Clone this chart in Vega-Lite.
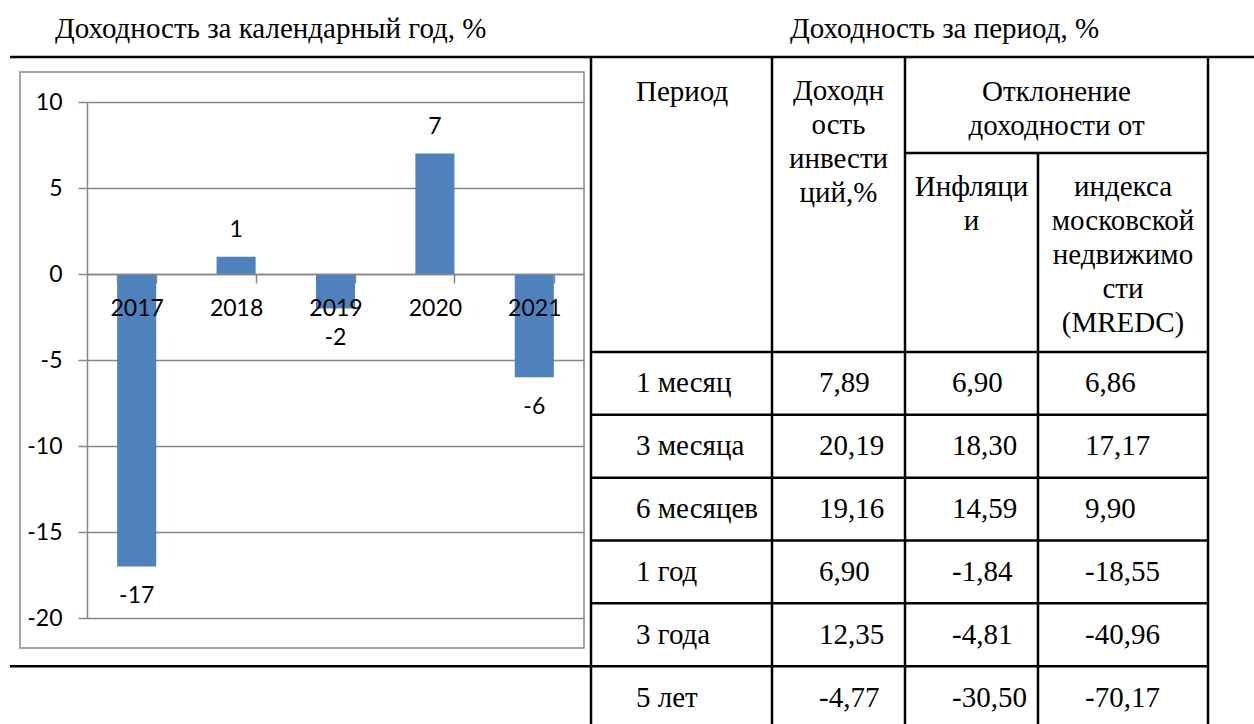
{
  "$schema": "https://vega.github.io/schema/vega-lite/v6.json",
  "width": 1254,
  "height": 724,
  "padding": 0,
  "autosize": {"type": "none"},
  "background": "white",
  "config": {
    "view": {"stroke": null},
    "locale": {"number": {"decimal": ",", "thousands": " ", "grouping": [3], "currency": ["", ""], "minus": "-"}},
    "text": {"font": "Liberation Serif", "fontSize": 29, "color": "black"}
  },
  "resolve": {"scale": {"x": "independent", "y": "independent"}},
  "layer": [
    {
      "resolve": {"scale": {"y": "independent"}},
      "layer": [
        {
          "layer": [
            {
              "data": {"values": [{"col": 1, "col2": 2, "row": 1, "row2": 4}]},
              "mark": {"type": "rect", "fill": "white", "fillOpacity": 0, "stroke": "#868686", "strokeWidth": 1.5},
              "encoding": {
                "x": {"field": "col", "type": "quantitative", "axis": null, "scale": {"type": "linear", "domain": [0,1,2,3,4,5,6,7,8], "range": [10,20,584,591,772,905,1038,1208,1254], "nice": false, "zero": false}},
                "x2": {"field": "col2"},
                "y": {"field": "row", "type": "quantitative", "axis": null, "scale": {"type": "linear", "domain": [0,1,2,3,4,5], "range": [57,72,153,352,648,724], "nice": false, "zero": false}},
                "y2": {"field": "row2"}
              }
            },
            {
              "data": {"values": [{"col": 3, "top": 0}, {"col": 4, "top": 0}, {"col": 5, "top": 0}, {"col": 6, "top": 2}, {"col": 7, "top": 0}]},
              "mark": {"type": "rule", "color": "black", "strokeWidth": 2.5},
              "encoding": {
                "x": {"field": "col", "type": "quantitative", "axis": null, "scale": {"type": "linear", "domain": [0,1,2,3,4,5,6,7,8], "range": [10,20,584,591,772,905,1038,1208,1254], "nice": false, "zero": false}},
                "y": {"field": "top", "type": "quantitative", "axis": null, "scale": {"type": "linear", "domain": [0,1,2,3,4,5], "range": [57,72,153,352,648,724], "nice": false, "zero": false}},
                "y2": {"datum": 5}
              }
            },
            {
              "data": {"values": [{"row": 0, "from": 0, "to": 8}, {"row": 2, "from": 5, "to": 7}]},
              "mark": {"type": "rule", "color": "black", "strokeWidth": 2.5},
              "encoding": {
                "x": {"field": "from", "type": "quantitative", "axis": null, "scale": {"type": "linear", "domain": [0,1,2,3,4,5,6,7,8], "range": [10,20,584,591,772,905,1038,1208,1254], "nice": false, "zero": false}},
                "x2": {"field": "to"},
                "y": {"field": "row", "type": "quantitative", "axis": null, "scale": {"type": "linear", "domain": [0,1,2,3,4,5], "range": [57,72,153,352,648,724], "nice": false, "zero": false}}
              }
            },
            {
              "data": {"values": [{"title": "Доходность за календарный год, %"}]},
              "mark": {"type": "text", "align": "left", "baseline": "alphabetic", "dx": 45, "dy": -19},
              "encoding": {
                "x": {"datum": 0, "type": "quantitative", "axis": null},
                "y": {"datum": 0, "type": "quantitative", "axis": null},
                "text": {"field": "title"}
              }
            },
            {
              "data": {"values": [{"title": "Доходность за период, %"}]},
              "mark": {"type": "text", "align": "left", "baseline": "alphabetic", "dx": 18, "dy": -19},
              "encoding": {
                "x": {"datum": 4, "type": "quantitative", "axis": null},
                "y": {"datum": 0, "type": "quantitative", "axis": null},
                "text": {"field": "title"}
              }
            },
            {
              "data": {"values": [{"label": "Период"}]},
              "mark": {"type": "text", "align": "left", "baseline": "alphabetic", "dx": 45, "dy": 44},
              "encoding": {
                "x": {"datum": 3, "type": "quantitative", "axis": null},
                "y": {"datum": 0, "type": "quantitative", "axis": null},
                "text": {"field": "label"}
              }
            },
            {
              "data": {"values": [{"label": "Доходн\nость\nинвести\nций,%"}]},
              "mark": {"type": "text", "align": "center", "baseline": "alphabetic", "dx": 66.5, "dy": 43, "lineBreak": "\n", "lineHeight": 34},
              "encoding": {
                "x": {"datum": 4, "type": "quantitative", "axis": null},
                "y": {"datum": 0, "type": "quantitative", "axis": null},
                "text": {"field": "label"}
              }
            },
            {
              "data": {"values": [{"label": "Отклонение\nдоходности от"}]},
              "mark": {"type": "text", "align": "center", "baseline": "alphabetic", "dx": 151.5, "dy": 44, "lineBreak": "\n", "lineHeight": 34},
              "encoding": {
                "x": {"datum": 5, "type": "quantitative", "axis": null},
                "y": {"datum": 0, "type": "quantitative", "axis": null},
                "text": {"field": "label"}
              }
            },
            {
              "data": {"values": [{"label": "Инфляци\nи"}]},
              "mark": {"type": "text", "align": "center", "baseline": "alphabetic", "dx": 66.5, "dy": 43, "lineBreak": "\n", "lineHeight": 34},
              "encoding": {
                "x": {"datum": 5, "type": "quantitative", "axis": null},
                "y": {"datum": 2, "type": "quantitative", "axis": null},
                "text": {"field": "label"}
              }
            },
            {
              "data": {"values": [{"label": "индекса\nмосковской\nнедвижимо\nсти\n(MREDC)"}]},
              "mark": {"type": "text", "align": "center", "baseline": "alphabetic", "dx": 85, "dy": 43, "lineBreak": "\n", "lineHeight": 34},
              "encoding": {
                "x": {"datum": 6, "type": "quantitative", "axis": null},
                "y": {"datum": 2, "type": "quantitative", "axis": null},
                "text": {"field": "label"}
              }
            }
          ]
        },
        {
          "data": {"values": [
            {"period": "1 месяц", "inv": 7.89, "infl": 6.90, "mredc": 6.86},
            {"period": "3 месяца", "inv": 20.19, "infl": 18.30, "mredc": 17.17},
            {"period": "6 месяцев", "inv": 19.16, "infl": 14.59, "mredc": 9.90},
            {"period": "1 год", "inv": 6.90, "infl": -1.84, "mredc": -18.55},
            {"period": "3 года", "inv": 12.35, "infl": -4.81, "mredc": -40.96},
            {"period": "5 лет", "inv": -4.77, "infl": -30.50, "mredc": -70.17}
          ]},
          "encoding": {
            "y": {"field": "period", "type": "ordinal", "axis": null, "scale": {"type": "band", "domain": ["1 месяц", "3 месяца", "6 месяцев", "1 год", "3 года", "5 лет"], "range": [352, 729], "paddingInner": 0, "paddingOuter": 0}}
          },
          "layer": [
            {
              "mark": {"type": "rule", "color": "black", "strokeWidth": 2.5},
              "encoding": {
                "y": {"field": "period", "type": "ordinal", "bandPosition": 0, "axis": null},
                "x": {"datum": 3, "type": "quantitative", "axis": null, "scale": {"type": "linear", "domain": [0,1,2,3,4,5,6,7,8], "range": [10,20,584,591,772,905,1038,1208,1254], "nice": false, "zero": false}},
                "x2": {"datum": 7}
              }
            },
            {
              "transform": [{"filter": "datum.period === '5 лет'"}],
              "mark": {"type": "rule", "color": "black", "strokeWidth": 2.5},
              "encoding": {
                "y": {"field": "period", "type": "ordinal", "bandPosition": 0, "axis": null},
                "x": {"datum": 0, "type": "quantitative", "axis": null},
                "x2": {"datum": 3}
              }
            },
            {
              "mark": {"type": "text", "align": "left", "baseline": "middle", "dx": 45},
              "encoding": {
                "x": {"datum": 3, "type": "quantitative", "axis": null},
                "text": {"field": "period"}
              }
            },
            {
              "mark": {"type": "text", "align": "left", "baseline": "middle", "dx": 47},
              "encoding": {
                "x": {"datum": 4, "type": "quantitative", "axis": null},
                "text": {"field": "inv", "type": "quantitative", "format": ".2f"}
              }
            },
            {
              "mark": {"type": "text", "align": "left", "baseline": "middle", "dx": 47},
              "encoding": {
                "x": {"datum": 5, "type": "quantitative", "axis": null},
                "text": {"field": "infl", "type": "quantitative", "format": ".2f"}
              }
            },
            {
              "mark": {"type": "text", "align": "left", "baseline": "middle", "dx": 47},
              "encoding": {
                "x": {"datum": 6, "type": "quantitative", "axis": null},
                "text": {"field": "mredc", "type": "quantitative", "format": ".2f"}
              }
            }
          ]
        }
      ]
    },
    {
      "data": {"values": [
        {"year": "2017", "v": -17},
        {"year": "2018", "v": 1},
        {"year": "2019", "v": -2},
        {"year": "2020", "v": 7},
        {"year": "2021", "v": -6}
      ]},
      "encoding": {
        "x": {
          "field": "year", "type": "ordinal",
          "scale": {"type": "band", "range": [87, 584], "paddingInner": 0.607, "paddingOuter": 0.3035},
          "axis": {"orient": "bottom", "offset": -450, "title": null, "labelAngle": 0, "tickBand": "extent", "tickSize": 9, "tickColor": "#868686", "tickWidth": 1.5, "domainColor": "#868686", "domainWidth": 1.5, "labelFont": "Lato", "labelFontSize": 23, "labelColor": "black", "labelPadding": 14, "grid": false, "zindex": 1}
        },
        "y": {
          "field": "v", "type": "quantitative",
          "scale": {"domain": [-20, 10], "range": [618, 102], "nice": false, "zero": false},
          "axis": {"orient": "left", "offset": -87, "title": null, "values": [-20, -15, -10, -5, 0, 5, 10], "tickSize": 9, "tickColor": "#868686", "tickWidth": 1.5, "domainColor": "#868686", "domainWidth": 1.5, "grid": true, "gridColor": "#868686", "gridWidth": 1.5, "labelFont": "Lato", "labelFontSize": 23, "labelColor": "black", "labelPadding": 16, "zindex": 0}
        }
      },
      "layer": [
        {"mark": {"type": "bar", "color": "#4F81BD"}, "encoding": {"y2": {"datum": 0}}},
        {
          "transform": [{"filter": "datum.v >= 0"}],
          "mark": {"type": "text", "font": "Lato", "fontSize": 23, "baseline": "middle", "dy": -27},
          "encoding": {"text": {"field": "v", "type": "quantitative"}}
        },
        {
          "transform": [{"filter": "datum.v < 0"}],
          "mark": {"type": "text", "font": "Lato", "fontSize": 23, "baseline": "middle", "dy": 30},
          "encoding": {"text": {"field": "v", "type": "quantitative"}}
        }
      ]
    }
  ]
}
